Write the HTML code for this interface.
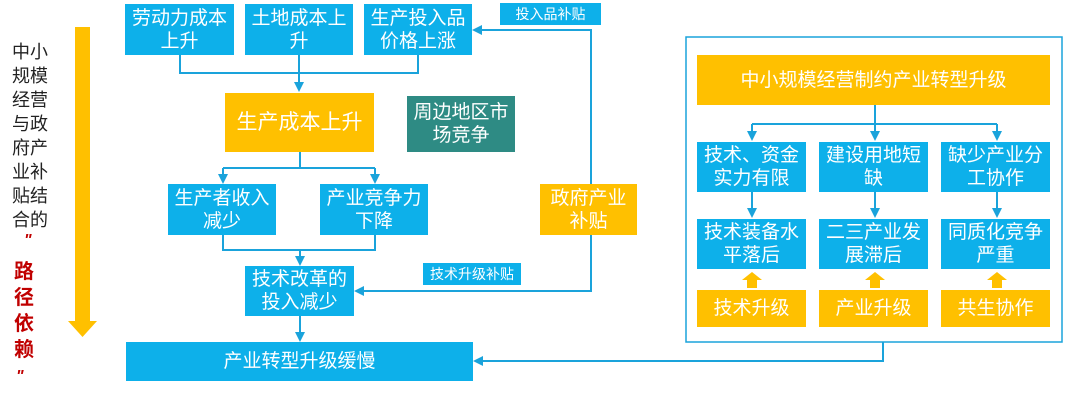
<!DOCTYPE html>
<html><head><meta charset="utf-8"><style>
body{margin:0;width:1080px;height:408px;background:#fff;position:relative;overflow:hidden;font-family:"Liberation Sans","Noto Sans CJK SC",sans-serif}
.b{position:absolute;display:flex;align-items:center;justify-content:center;text-align:center;color:#fff;font-size:19px;line-height:23px;box-sizing:border-box;padding:0 3px}
.bl{background:#0DB0EA}.or{background:#FFC000}.tl{background:#2E8B84}
.lb{position:absolute;background:#0DB0EA;color:#fff;font-size:14px;display:flex;align-items:center;justify-content:center}
svg{position:absolute;left:0;top:0}
.t{position:absolute;left:12px;width:40px;font-size:18px;line-height:24px;color:#222}
.r{position:absolute;left:14px;font-size:20px;font-weight:bold;color:#C00000;line-height:26px}
</style></head><body>
<svg width="1080" height="408">
<defs><marker id="a" markerWidth="5" markerHeight="5" refX="4" refY="2.5" orient="auto"><path d="M0,0L5,2.5L0,5z" fill="#1AA3DB"/></marker></defs>
<g stroke="#1AA3DB" stroke-width="2" fill="none">
<path d="M180,55V73H418V55M299,55V90" marker-end="url(#a)"/>
<path d="M300,152V168"/><path d="M223,168H375"/>
<path d="M223,168V182" marker-end="url(#a)"/><path d="M375,168V182" marker-end="url(#a)"/>
<path d="M223,235V250H375V235M300,250V264" marker-end="url(#a)"/>
<path d="M300,316V340" marker-end="url(#a)"/>
<path d="M591,184V30H474" marker-end="url(#a)"/>
<path d="M591,235V291H356" marker-end="url(#a)"/>
<path d="M883,342V361H475" marker-end="url(#a)"/>
<rect x="686" y="37" width="376" height="305" stroke-width="1.5"/>
<path d="M875,105V139" marker-end="url(#a)"/><path d="M752,124H997"/>
<path d="M752,124V139" marker-end="url(#a)"/><path d="M997,124V139" marker-end="url(#a)"/>
<path d="M752,192V216" marker-end="url(#a)"/><path d="M875,192V216" marker-end="url(#a)"/><path d="M997,192V216" marker-end="url(#a)"/>
</g>
<g fill="#FFC000">
<rect x="75" y="27" width="15" height="296"/><path d="M68,321H97L82.5,337z"/>
<path d="M747,288V280H742L752,272L762,280H757V288z"/>
<path d="M870,288V280H865L875,272L885,280H880V288z"/>
<path d="M992,288V280H987L997,272L1007,280H1002V288z"/>
</g>
</svg>
<div class="t" style="top:40px">中小<br>规模<br>经营<br>与政<br>府产<br>业补<br>贴结<br>合的</div>
<div class="r" style="top:228px;font-size:16px;left:24px;font-style:italic">"</div>
<div class="r" style="top:259px">路<br>径<br>依<br>赖</div>
<div class="r" style="top:364px;font-size:16px;left:16px;font-style:italic">"</div>
<div class="b bl" style="left:125px;top:4px;width:109px;height:51px">劳动力成本上升</div>
<div class="b bl" style="left:245px;top:4px;width:108px;height:51px">土地成本上升</div>
<div class="b bl" style="left:364px;top:4px;width:108px;height:51px">生产投入品价格上涨</div>
<div class="lb" style="left:500px;top:3px;width:101px;height:22px">投入品补贴</div>
<div class="b or" style="left:225px;top:93px;width:149px;height:59px;font-size:21px">生产成本上升</div>
<div class="b tl" style="left:407px;top:96px;width:108px;height:56px">周边地区市场竞争</div>
<div class="b bl" style="left:168px;top:184px;width:108px;height:51px">生产者收入减少</div>
<div class="b bl" style="left:320px;top:184px;width:108px;height:51px">产业竞争力下降</div>
<div class="b or" style="left:540px;top:184px;width:97px;height:51px">政府产业补贴</div>
<div class="lb" style="left:423px;top:263px;width:98px;height:22px">技术升级补贴</div>
<div class="b bl" style="left:245px;top:266px;width:109px;height:50px">技术改革的投入减少</div>
<div class="b bl" style="left:126px;top:342px;width:347px;height:39px">产业转型升级缓慢</div>
<div class="b or" style="left:697px;top:55px;width:353px;height:50px;font-size:19px">中小规模经营制约产业转型升级</div>
<div class="b bl" style="left:697px;top:142px;width:109px;height:50px">技术、资金实力有限</div>
<div class="b bl" style="left:819px;top:142px;width:109px;height:50px">建设用地短缺</div>
<div class="b bl" style="left:941px;top:142px;width:109px;height:50px">缺少产业分工协作</div>
<div class="b bl" style="left:697px;top:219px;width:109px;height:50px">技术装备水平落后</div>
<div class="b bl" style="left:819px;top:219px;width:109px;height:50px">二三产业发展滞后</div>
<div class="b bl" style="left:941px;top:219px;width:109px;height:50px">同质化竞争严重</div>
<div class="b or" style="left:697px;top:290px;width:109px;height:37px">技术升级</div>
<div class="b or" style="left:819px;top:290px;width:109px;height:37px">产业升级</div>
<div class="b or" style="left:941px;top:290px;width:109px;height:37px">共生协作</div>
</body></html>
